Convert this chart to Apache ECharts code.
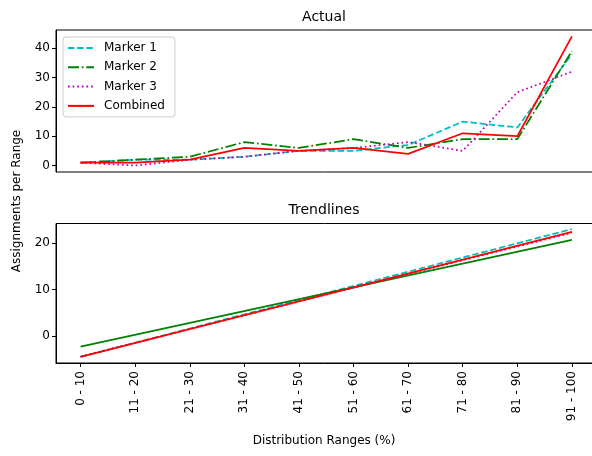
<!DOCTYPE html>
<html>
<head>
<meta charset="utf-8">
<script src="https://cdn.jsdelivr.net/npm/echarts@6/dist/echarts.min.js"></script>
<style>
  html, body { margin: 0; padding: 0; background: #fff; }
  #chart { width: 592px; height: 456px; }
</style>
</head>
<body>
<div id="chart"></div>
<script>
// Distribution ranges along the x axis
const ranges = ['0 - 10', '11 - 20', '21 - 30', '31 - 40', '41 - 50',
                '51 - 60', '61 - 70', '71 - 80', '81 - 90', '91 - 100'];

// Assignments per range, per marker
const marker1 = [1, 2, 2, 3, 5, 5, 7, 15, 13, 38];
const marker2 = [1, 2, 3, 8, 6, 9, 6, 9, 9, 39];
const marker3 = [1, 0, 2, 3, 5, 6, 8, 5, 25, 32];
const combined = [1, 1, 2, 6, 5, 6, 4, 11, 10, 44];

// Trendline values at the first and last range
const trendStart = { m1: -4.5, m2: -2.3, m3: -4.4, comb: -4.5 };
const trendEnd   = { m1: 23.0, m2: 20.7, m3: 22.2, comb: 22.4 };

const topTicks = [0, 10, 20, 30, 40];
const bottomTicks = [0, 10, 20];

const FONT = 'DejaVu Sans';
const LW = 1.75;
const styles = {
  m1:   { color: '#00bfbf', type: [6.4, 2.8] },
  m2:   { color: '#008000', type: [11, 2.8, 1.7, 2.8] },
  m3:   { color: '#bf00bf', type: [1.7, 2.9] },
  comb: { color: '#ff0000', type: 'solid' }
};
// Trendline styles: the Marker 2 fit is drawn solid
const trendStyles = {
  m1:   { color: '#00bfbf', type: [6.4, 2.8] },
  m2:   { color: '#008000', type: 'solid' },
  m3:   { color: '#bf00bf', type: [1.7, 2.9] },
  comb: { color: '#ff0000', type: 'solid' }
};
const names = { m1: 'Marker 1', m2: 'Marker 2', m3: 'Marker 3', comb: 'Combined' };
const values = { m1: marker1, m2: marker2, m3: marker3, comb: combined };
const idx = ranges.map((_, i) => i);

function lineSeries(name, st, data, axisIndex) {
  return {
    type: 'line',
    name: name,
    xAxisIndex: axisIndex,
    yAxisIndex: axisIndex,
    data: data,
    symbol: 'none',
    animation: false,
    color: st.color,
    lineStyle: { color: st.color, width: LW, type: st.type, cap: 'butt' }
  };
}

const series = [];
['m1', 'm2', 'm3', 'comb'].forEach(k => {
  series.push(lineSeries(names[k], styles[k], idx.map(i => [i, values[k][i]]), 0));
});
['m1', 'm2', 'm3', 'comb'].forEach(k => {
  series.push(lineSeries(names[k] + ' trend', trendStyles[k],
    [[0, trendStart[k]], [ranges.length - 1, trendEnd[k]]], 1));
});

const axisText = { color: '#000', fontFamily: FONT, fontSize: 12 };
const frameLine = { show: true, onZero: false, lineStyle: { color: '#000', width: 1 } };

function label(text, x, y, size, rotation) {
  return { type: 'text', x: x, y: y, rotation: rotation || 0,
    style: { text: text, fontFamily: FONT, fontSize: size, fill: '#000',
             textAlign: 'center', textVerticalAlign: 'middle' } };
}

const chart = echarts.init(document.getElementById('chart'), null, { renderer: 'canvas' });
chart.setOption({
  backgroundColor: '#fff',
  animation: false,
  legend: {
    data: ['Marker 1', 'Marker 2', 'Marker 3', 'Combined'],
    orient: 'vertical',
    left: 63, top: 37,
    itemWidth: 26, itemHeight: 12, itemGap: 7.3,
    padding: [5, 10, 5, 4],
    borderColor: '#cccccc', borderWidth: 1, borderRadius: 3,
    backgroundColor: 'rgba(255,255,255,0.8)',
    itemStyle: { opacity: 0 },
    textStyle: { fontFamily: FONT, fontSize: 12, color: '#000', padding: [0, 0, 0, 5] }
  },
  grid: [
    { left: 56, right: -4.5, top: 30, height: 142, outerBoundsMode: 'none', containLabel: false,
      show: true, borderColor: '#000', borderWidth: 1, backgroundColor: 'transparent' },
    { left: 56, right: -4.5, top: 223.5, height: 139.5, outerBoundsMode: 'none', containLabel: false,
      show: true, borderColor: '#000', borderWidth: 1, backgroundColor: 'transparent' }
  ],
  xAxis: [
    { type: 'value', gridIndex: 0, min: -0.45, max: 9.45,
      axisLine: { show: false, onZero: false }, axisTick: { show: false }, axisLabel: { show: false }, splitLine: { show: false } },
    { type: 'value', gridIndex: 1, min: -0.45, max: 9.45,
      axisLine: frameLine,
      axisTick: { show: true, customValues: idx, length: 4, lineStyle: { color: '#000', width: 1 } },
      axisLabel: Object.assign({ customValues: idx, rotate: 90, margin: 8,
        formatter: v => ranges[Math.round(v)] }, axisText),
      splitLine: { show: false } }
  ],
  yAxis: [
    { type: 'value', gridIndex: 0, min: -2.2, max: 46.2,
      axisLine: frameLine,
      axisTick: { show: true, customValues: topTicks, length: 4, lineStyle: { color: '#000', width: 1 } },
      axisLabel: Object.assign({ customValues: topTicks, margin: 6 }, axisText),
      splitLine: { show: false } },
    { type: 'value', gridIndex: 1, min: -5.8, max: 24.2,
      axisLine: frameLine,
      axisTick: { show: true, customValues: bottomTicks, length: 4, lineStyle: { color: '#000', width: 1 } },
      axisLabel: Object.assign({ customValues: bottomTicks, margin: 6 }, axisText),
      splitLine: { show: false } }
  ],
  graphic: [
    label('Actual', 324, 17, 14),
    label('Trendlines', 324, 210, 14),
    label('Assignments per Range', 17, 201, 12, Math.PI / 2),
    label('Distribution Ranges (%)', 324, 441, 12)
  ],
  series: series
});
</script>
</body>
</html>
